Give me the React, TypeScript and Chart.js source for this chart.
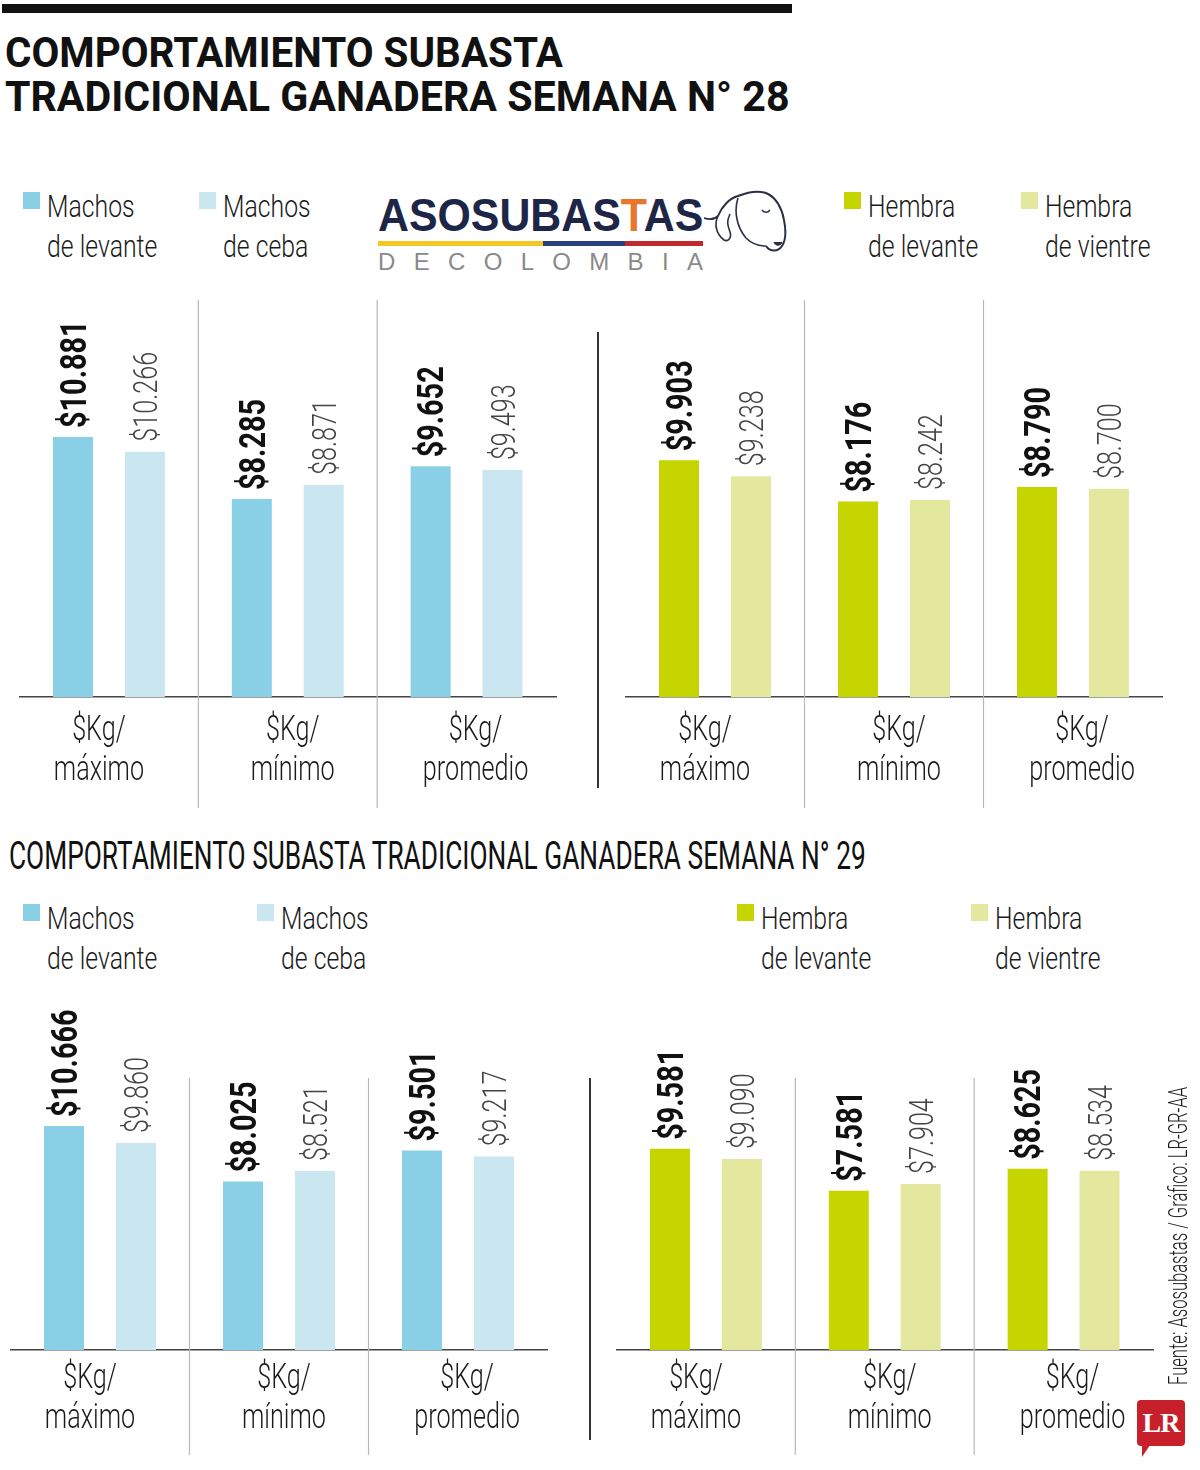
import { useEffect, useLayoutEffect, useRef } from "react"
import { Chart, registerables } from "chart.js"

Chart.register(...registerables)

const FONT = 'Roboto, "Liberation Sans", sans-serif'

// categories on the x axis
const categories = [
  ["$Kg/", "máximo"],
  ["$Kg/", "mínimo"],
  ["$Kg/", "promedio"],
]

// week 28
const w28MachosLevante = [10881, 8285, 9652]
const w28MachosCeba = [10266, 8871, 9493]
const w28HembraLevante = [9903, 8176, 8790]
const w28HembraVientre = [9238, 8242, 8700]

// week 29
const w29MachosLevante = [10666, 8025, 9501]
const w29MachosCeba = [9860, 8521, 9217]
const w29HembraLevante = [9581, 7581, 8625]
const w29HembraVientre = [9090, 7904, 8534]

const BLUE = "#89cfe5"
const LIGHT_BLUE = "#c9e6f1"
const GREEN = "#c6d400"
const LIGHT_GREEN = "#e4e89f"

// the category captions sit a little off the bar-group centres
const LABEL_SHIFT = [-10, 5, 9]

const fmt = (n: number) => "$" + String(n).replace(/\B(?=(\d{3})+(?!\d))/g, ".")

// squeeze a line of text horizontally to a given width
function Fit({ width, style, children }: { width: number; style: any; children: any }) {
  const ref = useRef<HTMLDivElement>(null)
  useLayoutEffect(() => {
    const el = ref.current
    if (!el) return
    el.style.transform = "none"
    const w = el.scrollWidth
    if (w > 0) el.style.transform = `scaleX(${width / w})`
  })
  return (
    <div
      ref={ref}
      style={{ position: "absolute", whiteSpace: "nowrap", transformOrigin: "left top", ...style }}
    >
      {children}
    </div>
  )
}

type PanelProps = {
  left: number
  top: number
  width: number
  height: number
  padLeft: number
  padRight: number
  padTop: number
  yMax: number
  first: number[]
  second: number[]
  colors: [string, string]
  sepTop: number
  sepBottom: number
  labelOffset: number
}

function BarPanel(p: PanelProps) {
  const chartRef = useRef<HTMLCanvasElement>(null)
  const chartInstance = useRef<Chart | null>(null)

  useEffect(() => {
    if (!chartRef.current) return
    if (chartInstance.current) chartInstance.current.destroy()
    const ctx = chartRef.current.getContext("2d")
    if (!ctx) return

    // gray lines between the categories + condensed category labels
    const categoryDecor = {
      id: "categoryDecor",
      beforeDatasetsDraw(chart: any) {
        const x = chart.scales.x
        const c = chart.ctx
        c.save()
        c.strokeStyle = "#b8b8b8"
        c.lineWidth = 1.2
        for (let i = 0; i < categories.length - 1; i++) {
          const px = (x.getPixelForTick(i) + x.getPixelForTick(i + 1)) / 2
          c.beginPath()
          c.moveTo(px, p.sepTop)
          c.lineTo(px, p.sepBottom)
          c.stroke()
        }
        c.restore()
      },
      afterDraw(chart: any) {
        const x = chart.scales.x
        const c = chart.ctx
        const base = chart.chartArea.bottom
        categories.forEach((lines, i) => {
          const px = x.getPixelForTick(i) + LABEL_SHIFT[i]
          lines.forEach((t, li) => {
            c.save()
            c.translate(px, base + p.labelOffset + li * 40)
            c.scale(0.72, 1)
            c.font = `300 35px ${FONT}`
            c.fillStyle = "#1a1a1a"
            c.textAlign = "center"
            c.textBaseline = "alphabetic"
            c.fillText(t, 0, 0)
            c.restore()
          })
        })
      },
    }

    // rotated value labels above the bars
    const valueLabels = {
      id: "valueLabels",
      afterDatasetsDraw(chart: any) {
        const c = chart.ctx
        chart.data.datasets.forEach((ds: any, di: number) => {
          const meta = chart.getDatasetMeta(di)
          const bold = di === 0
          const size = bold ? 36 : 34
          meta.data.forEach((bar: any, i: number) => {
            c.save()
            c.translate(bar.x, bar.y - (bold ? 9 : 10))
            c.rotate(-Math.PI / 2)
            c.scale(bold ? 0.8 : 0.74, 1)
            c.font = `${bold ? "bold" : "300"} ${size}px ${FONT}`
            c.fillStyle = bold ? "#111" : "#444"
            c.textAlign = "left"
            c.textBaseline = "alphabetic"
            c.fillText(fmt(ds.data[i]), 0, size * 0.355)
            c.restore()
          })
        })
      },
    }

    chartInstance.current = new Chart(ctx, {
      type: "bar",
      data: {
        labels: categories,
        datasets: [
          { data: p.first, backgroundColor: p.colors[0], borderWidth: 0 },
          { data: p.second, backgroundColor: p.colors[1], borderWidth: 0 },
        ],
      },
      options: {
        animation: false,
        responsive: true,
        maintainAspectRatio: false,
        categoryPercentage: 0.804,
        barPercentage: 0.556,
        layout: {
          padding: { left: p.padLeft, right: p.padRight, top: p.padTop, bottom: 2 },
        },
        plugins: { legend: { display: false }, tooltip: { enabled: false } },
        scales: {
          x: {
            grid: { display: false, drawTicks: false },
            border: { display: true, color: "#444", width: 1.5 },
            ticks: { display: false },
            afterFit: (scale: any) => {
              scale.height = 111
            },
          },
          y: { display: false, min: 0, max: p.yMax },
        },
      } as any,
      plugins: [categoryDecor, valueLabels],
    })

    return () => {
      if (chartInstance.current) {
        chartInstance.current.destroy()
        chartInstance.current = null
      }
    }
  }, [])

  return (
    <div style={{ position: "absolute", left: p.left, top: p.top, width: p.width, height: p.height }}>
      <canvas ref={chartRef}></canvas>
    </div>
  )
}

function LegendItem({ x, y, color, lines }: { x: number; y: number; color: string; lines: [string, string] }) {
  return (
    <div style={{ position: "absolute", left: x, top: y }}>
      <div style={{ position: "absolute", left: 0, top: 5, width: 17, height: 17, background: color }} />
      <div
        style={{
          position: "absolute",
          left: 24,
          top: 0,
          fontFamily: FONT,
          fontWeight: 300,
          fontSize: 31,
          lineHeight: "40px",
          color: "#1a1a1a",
          whiteSpace: "nowrap",
          transform: "scaleX(0.8)",
          transformOrigin: "left top",
        }}
      >
        {lines[0]}
        <br />
        {lines[1]}
      </div>
    </div>
  )
}

const LOGO_LETTERS = ["D", "E", "C", "O", "L", "O", "M", "B", "I", "A"]

function Logo() {
  return (
    <div style={{ position: "absolute", left: 378, top: 180, width: 420, height: 100 }}>
      <Fit
        width={325}
        style={{
          left: 0,
          top: 10,
          fontFamily: '"Liberation Sans", Arial, sans-serif',
          fontWeight: "bold",
          fontSize: 46,
          lineHeight: "50px",
          color: "#1d2647",
        }}
      >
        ASOSUBAS<span style={{ color: "#e8762b" }}>T</span>AS
      </Fit>
      <div style={{ position: "absolute", left: 0, top: 61, width: 165, height: 5, background: "#f2c824" }} />
      <div style={{ position: "absolute", left: 165, top: 61, width: 82, height: 5, background: "#2c3f7e" }} />
      <div style={{ position: "absolute", left: 247, top: 61, width: 78, height: 5, background: "#c2292f" }} />
      <div
        style={{
          position: "absolute",
          left: 0,
          top: 70,
          width: 325,
          display: "flex",
          justifyContent: "space-between",
          fontFamily: '"Liberation Sans", Arial, sans-serif',
          fontSize: 24,
          lineHeight: "24px",
          color: "#8a8a8a",
        }}
      >
        {LOGO_LETTERS.map((l, i) => (
          <span key={i}>{l}</span>
        ))}
      </div>
      <svg style={{ position: "absolute", left: 326, top: 6, width: 86, height: 72 }} viewBox="0 0 86 72">
        {/* rough outline of the zebu head */}
        <path d="M0 32 C6 34 10 34 14 30" fill="none" stroke="#2a2f45" strokeWidth={1.8} />
        <path
          d="M14 30 C18 20 26 12 34 10 C44 6 56 4 64 8 C72 12 78 22 80 34 C82 44 82 54 78 60 C74 66 66 66 62 60"
          fill="none"
          stroke="#2a2f45"
          strokeWidth={2}
        />
        <path d="M14 30 C10 38 12 48 20 54 C24 56 28 52 26 46 C24 40 22 36 26 28" fill="none" stroke="#2a2f45" strokeWidth={1.6} />
        <path d="M34 12 C30 24 32 40 42 52 C48 58 56 60 62 60" fill="none" stroke="#2a2f45" strokeWidth={1.6} />
        <path d="M58 24 C60 27 64 27 66 24" fill="none" stroke="#2a2f45" strokeWidth={1.4} />
        <path d="M70 56 C72 60 76 60 78 56" fill="#2a2f45" stroke="#2a2f45" strokeWidth={1.4} />
      </svg>
    </div>
  )
}

export default function App() {
  return (
    <div
      style={{
        position: "absolute",
        left: 0,
        top: 0,
        width: 1200,
        height: 1470,
        background: "#fff",
        overflow: "hidden",
      }}
    >
      <div style={{ position: "absolute", left: 2, top: 4, width: 790, height: 9, background: "#111" }} />
      <Fit
        width={558}
        style={{ left: 5, top: 30, fontFamily: FONT, fontWeight: "bold", fontSize: 42, lineHeight: "45px", color: "#111" }}
      >
        COMPORTAMIENTO SUBASTA
      </Fit>
      <Fit
        width={785}
        style={{ left: 5, top: 74, fontFamily: FONT, fontWeight: "bold", fontSize: 42, lineHeight: "45px", color: "#111" }}
      >
        TRADICIONAL GANADERA SEMANA N° 28
      </Fit>

      <LegendItem x={23} y={187} color={BLUE} lines={["Machos", "de levante"]} />
      <LegendItem x={199} y={187} color={LIGHT_BLUE} lines={["Machos", "de ceba"]} />
      <LegendItem x={844} y={187} color={GREEN} lines={["Hembra", "de levante"]} />
      <LegendItem x={1021} y={187} color={LIGHT_GREEN} lines={["Hembra", "de vientre"]} />
      <Logo />

      <BarPanel
        left={0}
        top={290}
        width={600}
        height={520}
        padLeft={19.5}
        padRight={44}
        padTop={10}
        yMax={16610}
        first={w28MachosLevante}
        second={w28MachosCeba}
        colors={[BLUE, LIGHT_BLUE]}
        sepTop={10}
        sepBottom={518}
        labelOffset={43}
      />
      <div style={{ position: "absolute", left: 597, top: 332, width: 2, height: 456, background: "#333" }} />
      <BarPanel
        left={600}
        top={290}
        width={600}
        height={520}
        padLeft={25.5}
        padRight={37.5}
        padTop={10}
        yMax={16610}
        first={w28HembraLevante}
        second={w28HembraVientre}
        colors={[GREEN, LIGHT_GREEN]}
        sepTop={10}
        sepBottom={518}
        labelOffset={43}
      />

      <Fit
        width={857}
        style={{ left: 9, top: 834, fontFamily: FONT, fontSize: 38, lineHeight: "44px", color: "#111" }}
      >
        COMPORTAMIENTO SUBASTA TRADICIONAL GANADERA SEMANA N° 29
      </Fit>

      <LegendItem x={23} y={899} color={BLUE} lines={["Machos", "de levante"]} />
      <LegendItem x={257} y={899} color={LIGHT_BLUE} lines={["Machos", "de ceba"]} />
      <LegendItem x={737} y={899} color={GREEN} lines={["Hembra", "de levante"]} />
      <LegendItem x={971} y={899} color={LIGHT_GREEN} lines={["Hembra", "de vientre"]} />

      <BarPanel
        left={0}
        top={990}
        width={600}
        height={473}
        padLeft={10.5}
        padRight={52.5}
        padTop={88}
        yMax={12952}
        first={w29MachosLevante}
        second={w29MachosCeba}
        colors={[BLUE, LIGHT_BLUE]}
        sepTop={88}
        sepBottom={465}
        labelOffset={38}
      />
      <div style={{ position: "absolute", left: 589, top: 1078, width: 2, height: 362, background: "#333" }} />
      <BarPanel
        left={600}
        top={990}
        width={600}
        height={473}
        padLeft={16.5}
        padRight={47}
        padTop={88}
        yMax={12952}
        first={w29HembraLevante}
        second={w29HembraVientre}
        colors={[GREEN, LIGHT_GREEN]}
        sepTop={88}
        sepBottom={465}
        labelOffset={38}
      />

      <div style={{ position: "absolute", left: 1165, top: 1385, width: 0, height: 0 }}>
        <Fit
          width={298}
          style={{
            left: 0,
            top: 0,
            fontFamily: FONT,
            fontWeight: 300,
            fontSize: 25,
            lineHeight: "28px",
            color: "#1a1a1a",
            transformOrigin: "left top",
            rotate: "-90deg",
          }}
        >
          Fuente: Asosubastas / Gráfico: LR-GR-AA
        </Fit>
      </div>

      <div
        style={{
          position: "absolute",
          left: 1137,
          top: 1400,
          width: 48,
          height: 46,
          background: "#c8202a",
          borderRadius: 4,
          color: "#fff",
          fontFamily: '"Liberation Serif", "DejaVu Serif", serif',
          fontWeight: "bold",
          fontSize: 28,
          lineHeight: "46px",
          textAlign: "center",
          letterSpacing: -1,
        }}
      >
        LR
      </div>
      <div
        style={{
          position: "absolute",
          left: 1142,
          top: 1445,
          width: 0,
          height: 0,
          borderLeft: "8px solid #c8202a",
          borderBottom: "12px solid transparent",
        }}
      />
    </div>
  )
}
